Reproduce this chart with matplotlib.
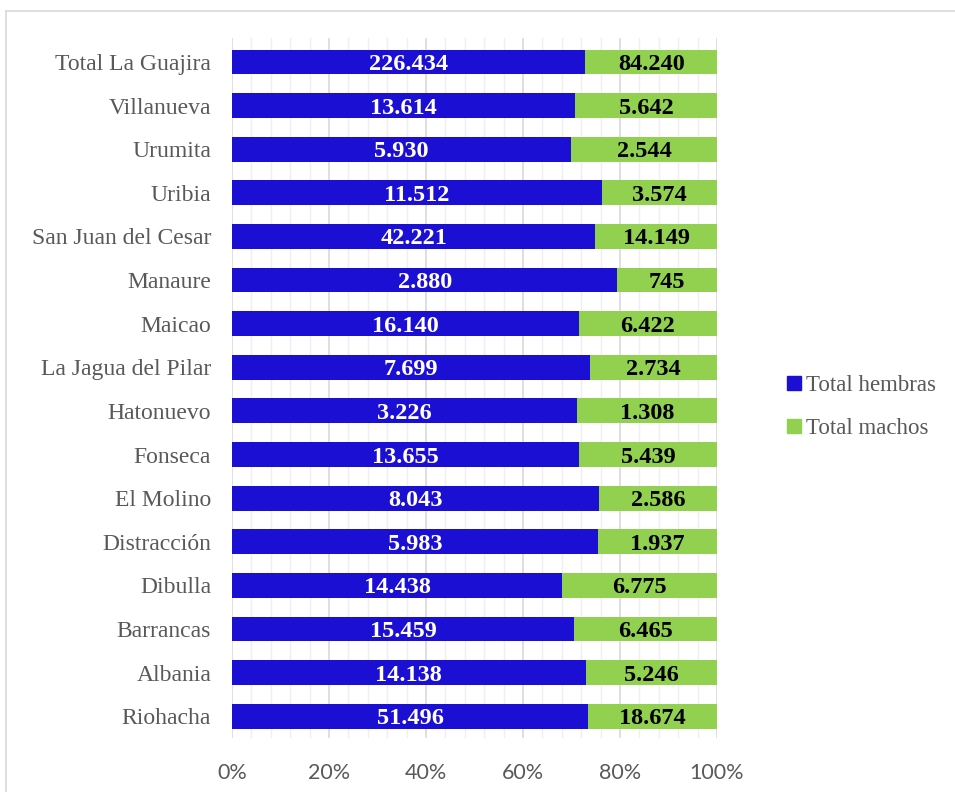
import matplotlib
matplotlib.use("Agg")
import matplotlib.pyplot as plt
from matplotlib.ticker import MultipleLocator, FuncFormatter
from matplotlib.lines import Line2D
import numpy as np

municipios = ["Total La Guajira", "Villanueva", "Urumita", "Uribia", "San Juan del Cesar",
              "Manaure", "Maicao", "La Jagua del Pilar", "Hatonuevo", "Fonseca",
              "El Molino", "Distracción", "Dibulla", "Barrancas", "Albania", "Riohacha"]
hembras = [226434, 13614, 5930, 11512, 42221, 2880, 16140, 7699, 3226, 13655,
           8043, 5983, 14438, 15459, 14138, 51496]
machos = [84240, 5642, 2544, 3574, 14149, 745, 6422, 2734, 1308, 5439,
          2586, 1937, 6775, 6465, 5246, 18674]

series_names = ["Total hembras", "Total machos"]
col_h = "#1C0FD4"
col_m = "#92D050"

def fmt_miles(v):
    return f"{v:,}".replace(",", ".")

h = np.array(hembras, dtype=float)
m = np.array(machos, dtype=float)
tot = h + m
fh = h / tot
fm = m / tot
n = len(municipios)
ypos = np.arange(n)[::-1]

fig = plt.figure(figsize=(9.55, 7.92), dpi=100)
ax = fig.add_axes([232 / 955, 1 - 738 / 792, (717 - 232) / 955, 700 / 792])

bh = 0.57
ax.barh(ypos, fh, height=bh, color=col_h, label=series_names[0], zorder=3)
ax.barh(ypos, fm, left=fh, height=bh, color=col_m, label=series_names[1], zorder=3)

serif = "Liberation Serif"
for y, a, b, va, vb in zip(ypos, fh, fm, hembras, machos):
    ax.text(a / 2, y, fmt_miles(va), ha="center", va="center_baseline", color="white",
            fontsize=17.5, fontweight="bold", family=serif, zorder=4)
    ax.text(a + b / 2, y, fmt_miles(vb), ha="center", va="center_baseline", color="black",
            fontsize=17.5, fontweight="bold", family=serif, zorder=4)

ax.set_xlim(0, 1)
ax.set_ylim(-0.5, n - 0.45)
ax.xaxis.set_major_locator(MultipleLocator(0.2))
ax.xaxis.set_minor_locator(MultipleLocator(0.04))
ax.xaxis.set_major_formatter(FuncFormatter(lambda v, p: f"{v*100:.0f}%"))
ax.grid(axis="x", which="major", color="#d9d9d9", linewidth=1.2, zorder=0)
ax.grid(axis="x", which="minor", color="#efefef", linewidth=1.0, zorder=0)
ax.set_axisbelow(True)
for s in ax.spines.values():
    s.set_visible(False)

ax.set_yticks(ypos)
ax.set_yticklabels(municipios, family=serif, fontsize=17, color="#595959")
ax.tick_params(axis="y", length=0, pad=15)
ax.tick_params(axis="x", which="both", length=0, pad=18, labelsize=15.5, labelcolor="#595959")
for lbl in ax.get_xticklabels():
    lbl.set_family("Lato")

handles = [Line2D([], [], marker="s", linestyle="none", markersize=10, color=col_h),
           Line2D([], [], marker="s", linestyle="none", markersize=10, color=col_m)]
fig.legend(handles, series_names, loc="center left", bbox_to_anchor=(766 / 955, 1 - 407 / 792),
           frameon=False, prop={"family": serif, "size": 16.5}, labelcolor="#595959",
           handlelength=0.6, handletextpad=0.25, labelspacing=0.95)

# chart frame
fig.add_artist(Line2D([6 / 955, 6 / 955], [0, 1 - 11 / 792], transform=fig.transFigure,
                      color="#d9d9d9", linewidth=1.2))
fig.add_artist(Line2D([6 / 955, 1], [1 - 11 / 792, 1 - 11 / 792], transform=fig.transFigure,
                      color="#d9d9d9", linewidth=1.2))

fig.savefig("out.png", dpi=100, facecolor="white")
